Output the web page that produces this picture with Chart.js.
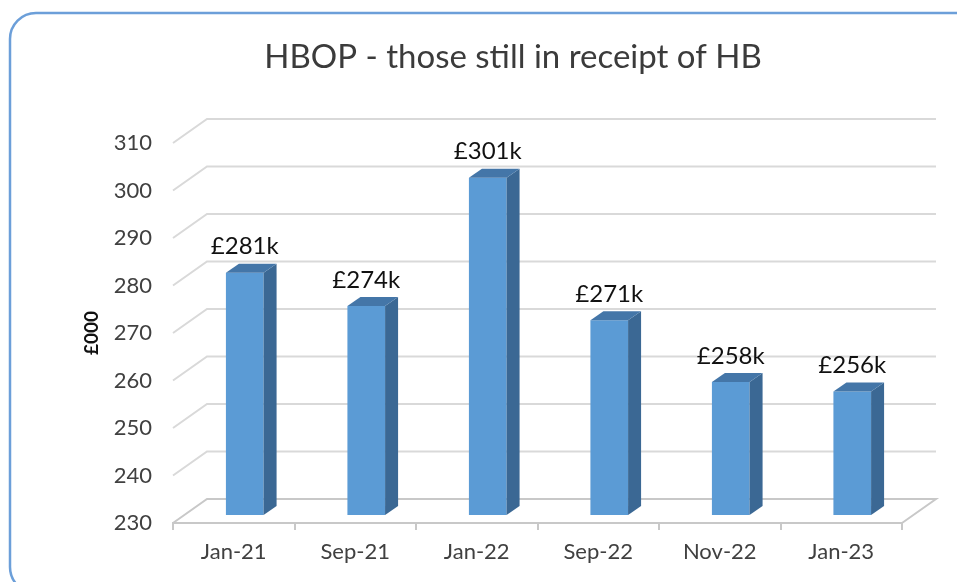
<!DOCTYPE html>
<html>
<head>
<meta charset="utf-8">
<script src="https://cdn.jsdelivr.net/npm/chart.js@4"></script>
<style>
  html, body { margin: 0; padding: 0; background: #fff; }
</style>
</head>
<body>
<canvas id="hbop" width="957" height="582"></canvas>
<script>
// chart data
const months = ['Jan-21', 'Sep-21', 'Jan-22', 'Sep-22', 'Nov-22', 'Jan-23'];
const values = [281, 274, 301, 271, 258, 256];
const barLabels = ['£281k', '£274k', '£301k', '£271k', '£258k', '£256k'];
const titleText = 'HBOP - those still in receipt of HB';

// 3d look: depth of the back wall and where the bars sit in it
const wallDX = 34, wallDY = -24;
const barDX = 11, barDY = -8;
const sideDX = 13, sideDY = -9;

const fontName = 'Lato';

// border, title, back wall grid
const backdrop = {
    id: 'backdrop',
    beforeDraw(chart) {
        const ctx = chart.ctx;
        ctx.save();
        ctx.strokeStyle = '#6c9fd9';
        ctx.lineWidth = 2.5;
        ctx.beginPath();
        ctx.roundRect(10, 13, 975, 580, 26);
        ctx.stroke();

        ctx.fillStyle = '#3b3b3b';
        ctx.font = '33px ' + fontName;
        ctx.textAlign = 'center';
        ctx.textBaseline = 'middle';
        ctx.fillText(titleText, 513, 57);
        ctx.restore();
    },
    beforeDatasetsDraw(chart) {
        const ctx = chart.ctx;
        const a = chart.chartArea;
        const y = chart.scales.y;
        ctx.save();
        ctx.lineWidth = 2;
        y.ticks.forEach(function(t, i) {
            const py = y.getPixelForValue(t.value);
            ctx.strokeStyle = i == 0 ? '#c8c8c8' : '#d9d9d9';
            ctx.beginPath();
            ctx.moveTo(a.left, py);
            ctx.lineTo(a.left + wallDX, py + wallDY);
            ctx.lineTo(a.right + wallDX, py + wallDY);
            if (i == 0) ctx.lineTo(a.right, py);
            ctx.stroke();
        });
        ctx.restore();
        // push the bar fronts back into the box
        ctx.save();
        ctx.translate(barDX, barDY);
    },
    afterDatasetsDraw(chart) {
        const ctx = chart.ctx;
        const meta = chart.getDatasetMeta(0);
        meta.data.forEach(function(bar) {
            const l = bar.x - bar.width / 2, r = bar.x + bar.width / 2;
            ctx.fillStyle = '#3b6894';
            ctx.beginPath();
            ctx.moveTo(r, bar.y);
            ctx.lineTo(r + sideDX, bar.y + sideDY);
            ctx.lineTo(r + sideDX, bar.base + sideDY);
            ctx.lineTo(r, bar.base);
            ctx.closePath();
            ctx.fill();
            ctx.fillStyle = '#4476a8';
            ctx.beginPath();
            ctx.moveTo(l, bar.y);
            ctx.lineTo(l + sideDX, bar.y + sideDY);
            ctx.lineTo(r + sideDX, bar.y + sideDY);
            ctx.lineTo(r, bar.y);
            ctx.closePath();
            ctx.fill();
        });
        ctx.restore();

        ctx.save();
        ctx.fillStyle = '#111';
        ctx.font = '24px ' + fontName;
        ctx.textAlign = 'center';
        ctx.textBaseline = 'middle';
        meta.data.forEach(function(bar, i) {
            ctx.fillText(barLabels[i], bar.x + barDX, bar.y + barDY - 26);
        });
        ctx.restore();
    }
};

new Chart(document.getElementById('hbop'), {
    type: 'bar',
    data: {
        labels: months,
        datasets: [{
            label: 'HBOP',
            data: values,
            base: 230,
            backgroundColor: '#5b9bd5',
            borderWidth: 0,
            categoryPercentage: 1,
            barPercentage: 0.31
        }]
    },
    options: {
        responsive: false,
        animation: false,
        maintainAspectRatio: false,
        layout: { padding: { top: 143, right: 55, left: 0, bottom: 0 } },
        plugins: {
            legend: { display: false },
            tooltip: { enabled: false }
        },
        scales: {
            x: {
                offset: true,
                grid: { display: true, drawOnChartArea: false, tickLength: 7, color: '#c8c8c8', lineWidth: 2 },
                border: { display: true, color: '#c8c8c8', width: 2 },
                ticks: { color: '#404040', font: { family: fontName, size: 22 }, padding: 9 },
                afterFit(s) { s.height = 59; }
            },
            y: {
                min: 230,
                max: 310,
                grid: { display: false },
                border: { display: false },
                ticks: { stepSize: 10, color: '#404040', padding: 13, font: { family: fontName, size: 22 } },
                title: {
                    display: true,
                    text: '£000',
                    color: '#111',
                    font: { family: fontName, size: 19, weight: 'bold' },
                    padding: { top: 80, bottom: 0 }
                },
                afterFit(s) { s.width = 173; }
            }
        }
    },
    plugins: [backdrop]
});
</script>
</body>
</html>
